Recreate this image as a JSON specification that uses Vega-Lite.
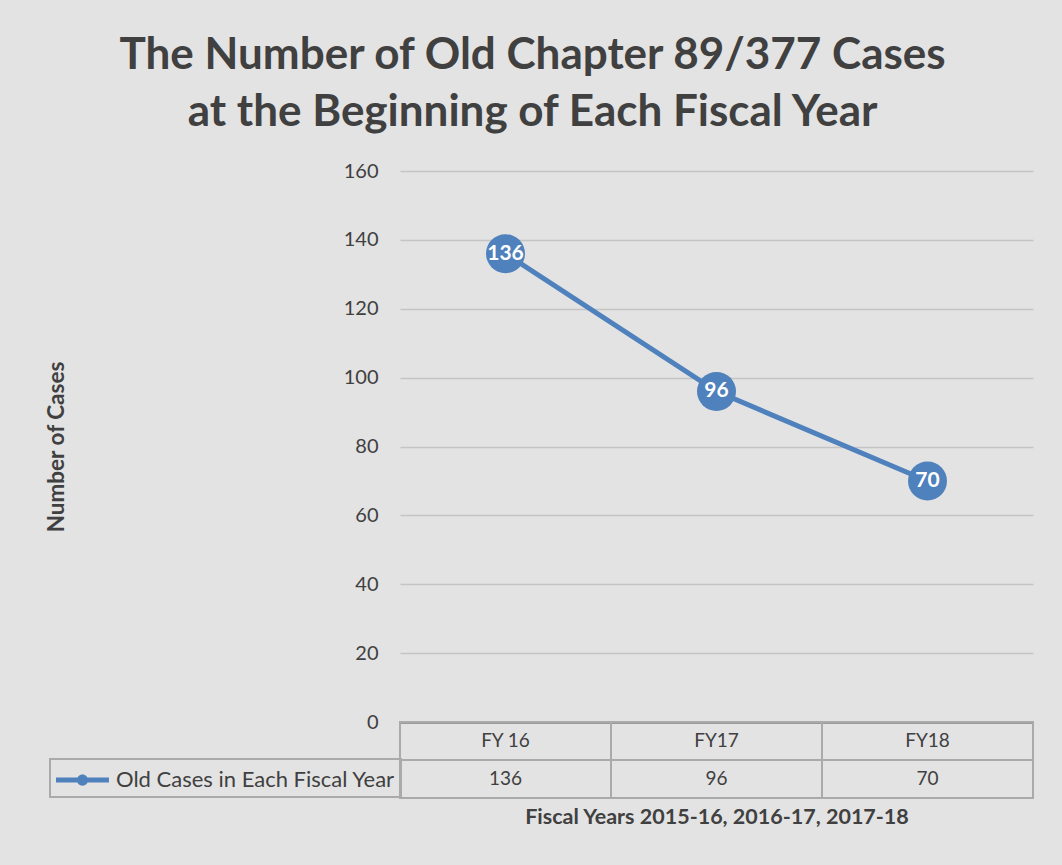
{
  "$schema": "https://vega.github.io/schema/vega-lite/v6.json",
  "background": "#e3e3e3",
  "padding": {"left": 45, "top": 34, "right": 29, "bottom": 37},
  "config": {"font": "Lato", "view": {"stroke": null}},
  "bounds": "flush",
  "title": {
    "text": ["The Number of Old Chapter 89/377 Cases", "at the Beginning of Each Fiscal Year"],
    "fontSize": 44, "fontWeight": "bold", "color": "#404040", "lineHeight": 57,
    "anchor": "middle", "frame": "bounds", "offset": 26, "dx": -7
  },
  "data": {"values": [
    {"fy": "FY 16", "cases": 136},
    {"fy": "FY17", "cases": 96},
    {"fy": "FY18", "cases": 70}
  ]},
  "spacing": 0,
  "vconcat": [
    {
      "width": 633, "height": 551,
      "encoding": {
        "x": {"field": "fy", "type": "nominal", "sort": null,
          "scale": {"type": "band", "domain": ["FY 16", "FY17", "FY18"], "paddingInner": 0, "paddingOuter": 0},
          "axis": {"labels": false, "ticks": false, "title": null, "domainColor": "#595959", "domainWidth": 2, "minExtent": 0}},
        "y": {"field": "cases", "type": "quantitative", "scale": {"domain": [0, 160]},
          "axis": {"values": [0, 20, 40, 60, 80, 100, 120, 140, 160], "title": "Number of Cases", "titlePadding": 275,
            "ticks": false, "domain": false, "labelPadding": 22, "labelFontSize": 20, "labelColor": "#404040",
            "gridColor": "#c4c4c4", "gridWidth": 1.5, "titleFontSize": 22.5, "titleFontWeight": "bold", "titleColor": "#404040"}}
      },
      "layer": [
        {"mark": {"type": "line", "color": "#4f81bd", "strokeWidth": 5}},
        {"mark": {"type": "point", "filled": true, "shape": "circle", "size": 1520, "color": "#4f81bd", "opacity": 1}},
        {"mark": {"type": "text", "color": "#ffffff", "fontWeight": "bold", "fontSize": 21}, "encoding": {"text": {"field": "cases"}}}
      ]
    },
    {
      "width": 633, "height": 76,
      "encoding": {
        "x": {"field": "fy", "type": "nominal", "sort": null,
          "scale": {"type": "band", "domain": ["FY 16", "FY17", "FY18"], "paddingInner": 0, "paddingOuter": 0},
          "axis": {"labels": false, "ticks": false, "domain": false, "title": "Fiscal Years 2015-16, 2016-17, 2017-18",
            "titleFontSize": 21.5, "titleFontWeight": "bold", "titleColor": "#404040", "titlePadding": 8}}
      },
      "layer": [
        {"mark": {"type": "rect", "fill": "transparent", "stroke": "#aaaaaa", "strokeWidth": 2},
          "encoding": {"y": {"datum": "hdr", "type": "nominal", "scale": {"type": "band", "domain": ["hdr", "val"], "paddingInner": 0, "paddingOuter": 0}, "axis": null}}},
        {"mark": {"type": "rect", "fill": "transparent", "stroke": "#aaaaaa", "strokeWidth": 2},
          "encoding": {"y": {"datum": "val", "type": "nominal"}}},
        {"mark": {"type": "text", "fontSize": 19, "color": "#404040"},
          "encoding": {"y": {"datum": "hdr", "type": "nominal"}, "text": {"field": "fy"}}},
        {"mark": {"type": "text", "fontSize": 19, "color": "#404040"},
          "encoding": {"y": {"datum": "val", "type": "nominal"}, "text": {"field": "cases"}}},
        {"mark": {"type": "point", "filled": true, "opacity": 0},
          "encoding": {
            "y": {"datum": "val", "type": "nominal"},
            "color": {"datum": "Old Cases in Each Fiscal Year", "type": "nominal", "scale": {"range": ["#4f81bd"]},
              "legend": {"orient": "none", "legendX": -350, "legendY": 588, "title": null,
                "symbolType": "M-1,-0.16L2.53,-0.16L2.53,0.16L-1,0.16Z M0.39,0 A0.373,0.373 0 1,1 1.14,0 A0.373,0.373 0 1,1 0.39,0 Z",
                "symbolSize": 900, "symbolOpacity": 1, "symbolStrokeWidth": 0, "symbolFillColor": "#4f81bd",
                "symbolOffset": 0, "labelFontSize": 22, "labelColor": "#404040", "labelLimit": 400, "labelOffset": 30,
                "padding": 6, "strokeColor": "#aaaaaa",
                "encode": {"legend": {"update": {"strokeWidth": {"value": 2}}}}}}
          }}
      ]
    }
  ]
}
